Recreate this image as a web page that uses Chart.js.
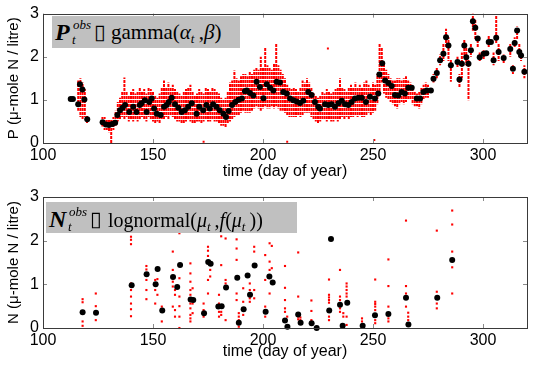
<!DOCTYPE html>
<html>
<head>
<meta charset="utf-8">
<script src="https://cdn.jsdelivr.net/npm/chart.js@4.4.1/dist/chart.umd.min.js"></script>
<style>
  body { margin: 0; background: #fff; width: 541px; height: 367px; overflow: hidden; position: relative; }
  .pane { position: absolute; left: 0; width: 541px; }
  .lab { position: absolute; background: #c0c0c0; }
  .pc { position: absolute; white-space: nowrap; font-family: "Liberation Serif", "Times New Roman", serif; color: #000; }
  .pc sub { font-size: 13px; font-style: italic; vertical-align: -4px; line-height: 0; }
</style>
</head>
<body>
<div class="pane" style="top:0;height:183px"><canvas id="cTop"></canvas></div>
<div class="pane" style="top:183px;height:184px"><canvas id="cBot"></canvas></div>
<div class="lab" style="left:52px;top:16px;width:188px;height:32px"></div>
<div class="lab" style="left:46px;top:202px;width:251px;height:31px"></div>
<script>
// axis ticks
const xTicks = [100, 150, 200, 250, 300];
const yTicks = [0, 1, 2, 3];

// top panel: daily estimates (black)
const pDays = [112.6,113.6,116.0,116.8,117.9,118.8,120.1,127.1,128.6,130.0,131.5,132.8,133.8,135.0,136.2,137.3,139.2,141.0,142.5,144.0,
  144.8,146.3,147.1,148.3,149.4,150.5,151.7,153.5,155.0,156.2,157.2,158.5,160.0,161.5,163.0,164.5,166.0,167.6,169.8,171.0,
  172.8,174.3,175.8,177.3,178.8,180.3,182.0,183.2,184.4,185.9,187.4,188.9,190.4,191.8,192.6,194.1,195.6,197.1,198.6,200.2,
  201.7,203.2,204.7,206.2,207.7,209.2,210.8,212.3,213.8,215.3,216.8,218.3,220.6,222.1,223.6,225.1,225.9,228.2,229.7,231.2,
  232.7,234.3,235.8,237.3,238.8,240.3,241.8,243.4,244.9,246.8,248.6,250.9,252.4,252.9,254.2,255.5,257.0,258.5,260.0,261.5,
  263.0,264.5,266.0,267.6,269.9,271.4,272.9,274.4,276.3,277.5,279.0,280.5,282.0,283.2,284.3,285.4,288.4,289.3,290.4,291.5,
  292.4,293.4,294.5,295.4,296.5,297.6,298.5,300.3,301.5,302.6,303.6,304.8,306.0,307.1,309.4,312.4,313.6,314.4,315.5,316.5,
  317.3,318.8];
const pVals = [1.02,1.02,0.90,1.36,1.24,1.01,0.55,0.48,0.43,0.42,0.44,0.47,0.65,0.76,0.82,0.88,0.72,0.84,0.72,0.88,
  0.92,0.99,0.72,0.95,1.03,0.80,0.68,0.65,0.84,0.88,0.95,1.05,0.90,0.82,0.72,0.76,0.84,0.92,0.68,0.84,
  0.76,0.88,0.80,0.90,0.84,0.76,0.68,0.60,0.74,0.88,0.95,1.00,1.03,1.20,1.22,1.16,1.10,1.42,1.30,1.04,
  1.36,1.28,1.22,1.42,1.40,1.18,1.15,1.03,0.99,0.96,0.93,0.98,1.18,1.11,0.95,0.84,0.80,0.90,0.88,0.90,
  0.84,0.92,0.98,0.90,0.88,0.95,1.03,1.05,1.05,0.95,1.07,1.03,1.15,1.59,1.85,1.45,1.39,1.32,1.11,1.10,
  1.18,1.15,1.28,1.28,1.03,1.03,1.18,1.22,1.22,1.49,1.62,1.92,2.07,2.45,2.26,1.80,1.88,1.47,1.84,2.26,
  1.99,1.84,2.15,2.82,2.67,2.42,1.99,2.07,2.08,2.34,2.34,1.92,2.44,2.11,1.97,2.18,1.72,2.32,2.61,2.11,
  2.03,1.65];

// top panel: spread of the observations (red), low / high per day
const pRedDay = [116,117,118,119,120,
  127,128,129,130,131,132,133,134,135,136,137,138,139,140,141,142,143,144,145,146,147,148,149,150,
  151,152,153,154,155,156,157,158,159,160,161,162,163,164,165,166,167,168,169,170,171,172,173,174,175,
  176,177,178,179,180,181,182,183,184,185,186,187,188,189,190,191,192,193,194,195,196,197,198,199,200,
  201,202,203,204,205,206,207,208,209,210,211,212,213,214,215,216,217,218,219,220,221,222,223,224,225,
  226,227,228,229,230,231,232,233,234,235,236,237,238,239,240,241,242,243,244,245,246,247,248,249,250,
  251,252,253,254,255,256,257,258,259,260,261,262,263,264,265,266,267,268,269,270,271,272,273,274,275,
  277.5,279.0,280.5,282.0,283.2,284.3,285.4,288.4,289.3,290.4,291.5,292.4,293.4,294.5,295.4,296.5,297.6,298.5,300.3,302.6,
  304.8,306.0,307.1,309.4,312.4,313.6,314.4,315.5,316.5,317.3,318.8];
const pRedLo = [0.75,0.60,0.55,0.60,0.45,
  0.38,0.30,0.30,0.25,0.00,0.30,0.40,0.50,0.55,0.60,0.55,0.60,0.50,0.55,0.50,0.55,0.50,0.55,0.60,0.55,0.50,0.60,0.55,0.50,
  0.45,0.50,0.45,0.55,0.55,0.60,0.55,0.65,0.60,0.55,0.50,0.50,0.45,0.45,0.50,0.55,0.50,0.45,0.45,0.50,0.50,0.45,0.50,0.55,0.50,
  0.50,0.55,0.50,0.50,0.45,0.40,0.40,0.35,0.45,0.50,0.55,0.60,0.65,0.65,0.70,0.75,0.70,0.70,0.70,0.75,0.80,0.85,0.80,0.75,0.80,
  0.85,0.80,0.80,0.85,0.80,0.85,0.80,0.75,0.75,0.70,0.65,0.60,0.60,0.60,0.60,0.65,0.60,0.65,0.70,0.70,0.70,0.60,0.55,0.50,0.45,
  0.50,0.55,0.55,0.50,0.55,0.50,0.50,0.55,0.50,0.55,0.60,0.55,0.60,0.55,0.60,0.60,0.65,0.60,0.65,0.60,0.60,0.65,0.70,0.65,0.70,
  0.75,0.90,1.20,1.40,1.15,1.05,1.00,0.95,0.90,0.85,0.80,0.90,0.95,0.90,0.95,1.00,1.00,0.90,0.85,0.85,0.80,0.90,1.00,1.05,1.05,
  1.40,1.50,1.80,1.90,2.20,1.90,1.42,1.75,1.30,1.50,2.00,1.80,0.99,2.00,2.60,2.40,2.20,1.90,1.95,2.20,
  1.80,2.30,1.90,1.85,2.00,1.60,2.20,2.40,2.00,1.90,1.50];
const pRedHi = [1.45,1.50,1.40,1.25,0.65,
  0.60,0.60,0.55,0.55,0.55,0.60,0.75,0.95,1.05,1.20,1.52,1.20,1.10,1.20,1.25,1.15,1.20,1.30,1.20,1.25,1.15,1.30,1.25,1.20,
  1.10,1.05,1.15,1.30,1.45,1.30,1.40,1.30,1.35,1.25,1.20,1.15,1.10,1.20,1.25,1.30,1.35,1.20,1.10,1.15,1.25,1.20,1.15,1.30,1.25,
  1.20,1.30,1.25,1.20,1.15,1.05,1.00,1.05,1.20,1.40,1.45,1.68,1.50,1.45,1.55,1.60,1.60,1.55,1.65,1.60,1.70,1.75,1.70,2.00,1.75,
  2.20,1.80,1.75,1.70,1.85,2.30,1.80,1.70,1.60,1.50,1.35,1.30,1.25,1.30,1.25,1.20,1.30,1.45,1.40,1.50,1.40,1.30,1.15,1.10,1.05,
  1.10,1.20,1.15,1.25,1.20,1.15,1.20,1.25,1.30,1.50,1.30,1.25,1.20,1.30,1.35,1.30,1.40,1.30,1.35,1.30,1.40,1.45,1.35,1.30,1.40,
  1.35,1.60,2.30,2.20,1.85,1.70,1.60,1.50,1.45,1.45,1.50,1.50,1.45,1.50,1.55,1.45,1.40,1.30,1.20,1.15,1.20,1.30,1.35,1.40,1.35,
  1.60,1.75,2.05,2.30,2.65,2.45,1.95,2.00,1.60,2.10,2.40,2.20,1.95,2.30,3.00,2.85,2.50,2.10,2.15,2.50,
  2.10,2.95,2.30,2.05,2.30,1.80,2.45,2.70,2.30,2.15,1.80];
// top panel: isolated red observations
const pOutDay = [173.0, 211.0, 229.5, 250.6];
const pOutVal = [0.03, 0.03, 2.19, 0.07];

// bottom panel: estimates (black)
const nDays = [118.0,124.1,140.3,147.1,151.2,152.1,154.2,159.1,161.0,162.3,167.1,168.3,173.2,175.1,176.2,179.7,181.2,183.2,188.3,189.0,
  191.2,193.0,194.1,196.2,201.2,202.9,204.4,210.0,211.1,216.0,217.1,222.1,224.4,230.1,230.9,235.0,236.2,238.3,245.3,250.9,
  257.0,265.0,266.1,279.2,286.0];
const nVals = [0.36,0.35,0.98,1.23,1.00,1.35,0.40,1.17,0.94,1.44,0.65,0.64,0.34,1.51,1.47,0.49,0.50,0.93,1.15,0.12,
  0.43,1.20,0.76,1.43,0.37,1.18,1.04,0.17,0.03,0.31,0.12,0.11,0.00,0.40,2.04,0.53,0.05,0.58,0.05,0.29,
  0.32,0.69,0.08,0.69,1.56];
// bottom panel: observation columns (red)
const nRedDays = [118,124,140,147,151,152,154,159,160,162,167,168,173,175,176,180,181,183,188,189,
  191,194,196,201,203,204,210,211,216,217,222,230,235,236.5,238,245,251,257,265,266,279,286];
const nRedVals = [
  [0.66,0.59,0.15,0.05], [0.79,0.50,0.18], [2.09,2.02,1.92,1.02,0.87,0.72,0.56,0.43,0.27],
  [1.42,1.34,1.24,1.10,0.87,0.66], [1.10,0.87,0.56], [1.34,1.12,0.76], [0.49,0.15],
  [1.75,1.33,1.18,1.06,0.95,0.49], [0.87,0.76,0.41,0.26], [2.17,1.14,0.72,0.50,0.26,0.00],
  [1.48,1.25,1.06,0.87,0.76,0.56,0.45,0.30,0.22,0.15], [0.91,0.56,0.34], [0.56,0.41,0.26],
  [1.86,1.77,1.65,1.10,0.79], [1.33,1.18], [0.76,0.56,0.37,0.26], [2.10,1.44,0.37,0.30],
  [2.05,1.10,1.02,0.18], [2.03,1.82,1.56,0.79,0.64], [0.34,0.26,0.18,0.03],
  [0.91,0.60,0.30], [1.02,0.87,0.68,0.60], [1.86,1.75,0.87,0.68], [1.67,1.10,0.49,0.41,0.26],
  [1.94,1.52,1.33,0.79], [1.88,1.37], [1.42,0.92,0.64,0.45,0.37], [0.26], [1.73,0.72,0.26,0.20],
  [0.24,0.18], [0.63,0.39,0.18], [1.11,0.76,0.70,0.64,0.58,0.26,0.18], [1.33,0.72,0.64,0.45,0.37],
  [0.34,0.26], [1.02,0.95,0.87,0.79,0.72,0.26,0.07], [0.22,0.15], [1.11,0.60,0.55,0.49,0.41,0.18,0.11],
  [1.57,0.96,0.49,0.22,0.15], [2.46,0.96,0.79,0.49], [0.35,0.26,0.18,0.05], [2.23,0.83,0.56,0.45],
  [2.69,2.37,1.75,1.39,0.79]];

const SANS = '"Liberation Sans", Arial, sans-serif';
const RED = '#ff0000';

// speckled fill so the dense red columns read as stacked dots
function dotPattern() {
  const c = document.createElement('canvas');
  c.width = 2; c.height = 4;
  const g = c.getContext('2d');
  g.fillStyle = RED;
  g.fillRect(0, 0, 2, 3);
  return g.createPattern(c, 'repeat');
}

// matlab style box with inward ticks on all four sides
const frame = {
  id: 'frame',
  afterDraw(chart) {
    const { ctx, chartArea: a, scales: { x, y } } = chart;
    const seg = (x1, y1, x2, y2) => { ctx.beginPath(); ctx.moveTo(x1, y1); ctx.lineTo(x2, y2); ctx.stroke(); };
    ctx.save();
    ctx.lineWidth = 1;
    ctx.strokeStyle = '#8a8a8a';
    for (const t of x.ticks) {
      const px = Math.round(x.getPixelForValue(t.value)) + 0.5;
      seg(px, a.bottom, px, a.bottom - 4);
      seg(px, a.top, px, a.top + 4);
    }
    for (const t of y.ticks) {
      const py = Math.round(y.getPixelForValue(t.value)) + 0.5;
      seg(a.left, py, a.left + 4, py);
      seg(a.right, py, a.right - 4, py);
    }
    ctx.strokeStyle = '#3a3a3a';
    ctx.strokeRect(Math.round(a.left) + 0.5, Math.round(a.top) + 0.5, Math.round(a.right - a.left), Math.round(a.bottom - a.top));
    ctx.restore();
  }
};

function makeChart(id, datasets, yTitle, padTop, xAxisH, titlePad) {
  return new Chart(document.getElementById(id), {
    type: 'scatter',
    data: { datasets },
    options: {
      responsive: true, maintainAspectRatio: false, animation: false, devicePixelRatio: 1,
      layout: { padding: { top: padTop, right: 14, left: 0, bottom: 0 } },
      plugins: { legend: { display: false }, tooltip: { enabled: false } },
      scales: {
        x: {
          type: 'linear', min: 100, max: 320, offset: false,
          afterBuildTicks: s => { s.ticks = xTicks.map(v => ({ value: v })); },
          afterFit: s => { s.height = xAxisH; },
          grid: { display: false, drawTicks: false }, border: { display: false },
          ticks: { font: { family: SANS, size: 16 }, color: '#000', padding: 3, maxRotation: 0 },
          title: { display: true, text: 'time (day of year)', color: '#000',
                   font: { family: SANS, size: 16 }, padding: { top: 0, bottom: titlePad } }
        },
        y: {
          type: 'linear', min: 0, max: 3,
          afterBuildTicks: s => { s.ticks = yTicks.map(v => ({ value: v })); },
          afterFit: s => { s.width = 43; },
          grid: { display: false, drawTicks: false }, border: { display: false },
          ticks: { font: { family: SANS, size: 16 }, color: '#000', padding: 4 },
          title: { display: true, text: yTitle, color: '#000',
                   font: { family: SANS, size: 15 }, padding: { top: 5, bottom: 0 } }
        }
      }
    },
    plugins: [frame]
  });
}

makeChart('cTop', [
  { label: 'estimate', data: pDays.map((d, i) => ({ x: d, y: pVals[i] })),
    backgroundColor: '#000', borderWidth: 0, pointRadius: 3, order: 0, clip: false },
  { label: 'outliers', data: pOutDay.map((d, i) => ({ x: d, y: pOutVal[i] })),
    backgroundColor: RED, borderWidth: 0, pointStyle: 'rect', pointRadius: 1.4, order: 1 },
  { type: 'bar', label: 'observed', data: pRedDay.map((d, i) => ({ x: d, y: [pRedLo[i], pRedHi[i]] })),
    backgroundColor: dotPattern(), borderWidth: 0, barThickness: 2, inflateAmount: 0, grouped: false, order: 2 }
], 'P (μ-mole N / litre)', 13, 40, 2);

const nRedPts = [];
nRedDays.forEach((d, i) => nRedVals[i].forEach(v => nRedPts.push({ x: d, y: v })));

makeChart('cBot', [
  { label: 'estimate', data: nDays.map((d, i) => ({ x: d, y: nVals[i] })),
    backgroundColor: '#000', borderWidth: 0, pointRadius: 3, order: 0, clip: false },
  { label: 'observed', data: nRedPts,
    backgroundColor: RED, borderWidth: 0, pointStyle: 'rect', pointRadius: 1.5, order: 1, clip: false }
], 'N (μ-mole N / litre)', 14, 39, 6);

// label boxes: text pieces placed by baseline
function put(html, x, base, size, style) {
  const s = document.createElement('span');
  s.className = 'pc';
  s.innerHTML = html;
  s.style.left = x + 'px';
  s.style.top = (base - 0.8375 * size) + 'px';
  s.style.fontSize = size + 'px';
  s.style.lineHeight = size + 'px';
  if (style) s.style.cssText += style;
  document.body.appendChild(s);
}
const IT = 'font-style:italic;';
const BI = 'font-style:italic;font-weight:bold;';
const BOX = 'font-family:"DejaVu Sans",sans-serif;';

put('P', 55, 40, 24, BI);
put('obs', 73, 29, 13, IT);
put('t', 72, 44, 13, IT);
put('▯', 94, 40, 21, BOX);
put('gamma(<i>α</i><sub>t</sub>&#8201;,<i>β</i>)', 111, 40, 21);

put('N', 49, 227, 24, BI);
put('obs', 69, 216, 13, IT);
put('t', 68, 231, 13, IT);
put('▯', 90, 227, 21, BOX);
put('lognormal(<i>μ</i><sub>t</sub>&#8201;,<i>f</i>(<i>μ</i><sub>t</sub>&#8201;))', 108, 227, 20);
</script>
</body>
</html>
